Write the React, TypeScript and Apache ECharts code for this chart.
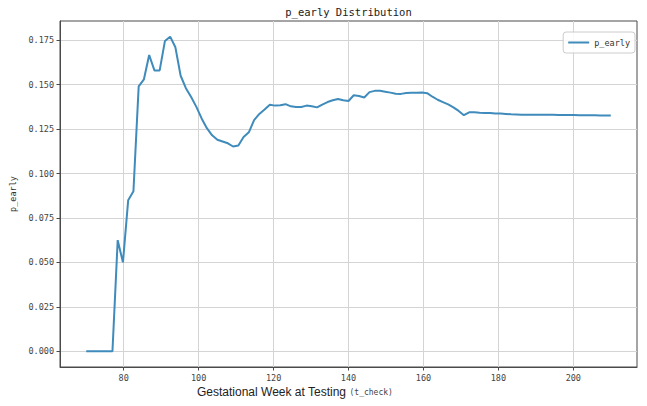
import React, { useEffect, useRef } from "react";
import * as echarts from "echarts";

const weeks = [
  70, 71.4, 72.8, 74.2, 75.6, 77, 78.4, 79.8, 81.2, 82.6,
  84, 85.4, 86.8, 88.2, 89.6, 91, 92.4, 93.8, 95.2, 96.6,
  98, 99.4, 100.8, 102.2, 103.6, 105, 106.4, 107.8, 109.2, 110.6,
  112, 113.4, 114.8, 116.2, 117.6, 119, 120.4, 121.8, 123.2, 124.6,
  126, 127.4, 128.8, 130.2, 131.6, 133, 134.4, 135.8, 137.2, 138.6,
  140, 141.4, 142.8, 144.2, 145.6, 147, 148.4, 149.8, 151.2, 152.6,
  154, 155.4, 156.8, 158.2, 159.6, 161, 162.4, 163.8, 165.2, 166.6,
  168, 169.4, 170.8, 172.2, 173.6, 175, 176.4, 177.8, 179.2, 180.6,
  182, 183.4, 184.8, 186.2, 187.6, 189, 190.4, 191.8, 193.2, 194.6,
  196, 197.4, 198.8, 200.2, 201.6, 203, 204.4, 205.8, 207.2, 208.6,
  210,
];

const pEarly = [
  0, 0, 0, 0, 0, 0, 0.0625, 0.05, 0.085, 0.09,
  0.149, 0.153, 0.1667, 0.158, 0.158, 0.1745, 0.177, 0.171, 0.155, 0.148,
  0.143, 0.1375, 0.131, 0.1255, 0.1215, 0.119, 0.118, 0.117, 0.1152, 0.1158,
  0.1205, 0.1232, 0.13, 0.1335, 0.136, 0.1387, 0.1382, 0.1384, 0.139, 0.1378,
  0.1374, 0.1374, 0.1382, 0.1378, 0.1372, 0.1388, 0.1402, 0.1412, 0.1419, 0.1412,
  0.1408, 0.144, 0.1436, 0.1428, 0.1458, 0.1465, 0.1465, 0.146, 0.1455, 0.1449,
  0.1448, 0.1453, 0.1454, 0.1455, 0.1456, 0.1452, 0.1432, 0.1415, 0.1402, 0.1389,
  0.1372, 0.1352, 0.1328, 0.1344, 0.1344, 0.1342, 0.1341, 0.134, 0.1338, 0.1337,
  0.1335, 0.1333, 0.1332, 0.1331, 0.1331, 0.1331, 0.133, 0.133, 0.133, 0.133,
  0.1329, 0.1329, 0.1329, 0.1329, 0.1328, 0.1328, 0.1328, 0.1328, 0.1327, 0.1327,
  0.1327,
];

const xTicks = [80, 100, 120, 140, 160, 180, 200];
const yTicks = [0, 0.025, 0.05, 0.075, 0.1, 0.125, 0.15, 0.175];

const MONO = "'DejaVu Sans Mono', 'Liberation Mono', monospace";
const LINE = "#3f8bbb";
const AXIS = "#4a4a4a";

export default function App() {
  const ref = useRef<HTMLDivElement>(null);
  useEffect(() => {
    const chart = echarts.init(ref.current!, null, { renderer: "svg" });
    chart.setOption({
      animation: false,
      backgroundColor: "#ffffff",
      grid: {
        left: 60,
        right: 10,
        top: 21,
        bottom: 39,
        show: true,
        borderColor: AXIS,
        borderWidth: 1,
        containLabel: false,
      },
      legend: {
        right: 12,
        top: 32,
        data: [{ name: "p_early", icon: "rect" }],
        itemWidth: 21,
        itemHeight: 2,
        borderColor: "#cccccc",
        borderWidth: 1,
        borderRadius: 3,
        padding: [6, 5],
        backgroundColor: "rgba(255,255,255,0.85)",
        textStyle: { fontFamily: MONO, fontSize: 8.5, color: "#333" },
      },
      xAxis: {
        type: "value",
        min: 63,
        max: 217,
        axisLine: { show: true, onZero: false, lineStyle: { color: AXIS } },
        axisTick: { show: true, length: 3.5, customValues: xTicks, lineStyle: { color: AXIS } },
        axisLabel: {
          customValues: xTicks,
          fontFamily: MONO,
          fontSize: 8.5,
          color: "#444",
          margin: 6,
        },
        splitLine: { show: true, lineStyle: { color: "#d4d4d4", width: 1 } },
      },
      yAxis: {
        type: "value",
        min: -0.00885,
        max: 0.1858,
        name: "p_early",
        nameLocation: "middle",
        nameGap: 40,
        nameTextStyle: { fontFamily: MONO, fontSize: 8.5, color: "#333" },
        axisLine: { show: true, onZero: false, lineStyle: { color: AXIS } },
        axisTick: { show: true, length: 3.5, customValues: yTicks, lineStyle: { color: AXIS } },
        axisLabel: {
          customValues: yTicks,
          fontFamily: MONO,
          fontSize: 8.5,
          color: "#444",
          margin: 6,
          formatter: (v: number) => v.toFixed(3),
        },
        splitLine: { show: true, lineStyle: { color: "#d4d4d4", width: 1 } },
      },
      graphic: [
        {
          type: "text",
          x: 348.5,
          y: 6,
          style: {
            text: "p_early Distribution",
            fontFamily: MONO,
            fontSize: 10.5,
            fill: "#222",
            textAlign: "center",
            textVerticalAlign: "top",
          },
        },
        {
          type: "text",
          x: 197,
          y: 386,
          style: {
            text: "{a|Gestational Week at Testing} {b|(t_check)}",
            rich: {
              a: { fontFamily: "'Liberation Sans', Arial, sans-serif", fontSize: 12, fill: "#222" },
              b: { fontFamily: MONO, fontSize: 8, fill: "#444" },
            },
          },
        },
      ],
      series: [
        {
          name: "p_early",
          type: "line",
          data: weeks.map((w, i) => [w, pEarly[i]]),
          showSymbol: false,
          color: LINE,
          lineStyle: { color: LINE, width: 2 },
        },
      ],
    });
    return () => chart.dispose();
  }, []);
  return (
    <div
      ref={ref}
      style={{ position: "fixed", left: 0, top: 0, width: 647, height: 406 }}
    />
  );
}
